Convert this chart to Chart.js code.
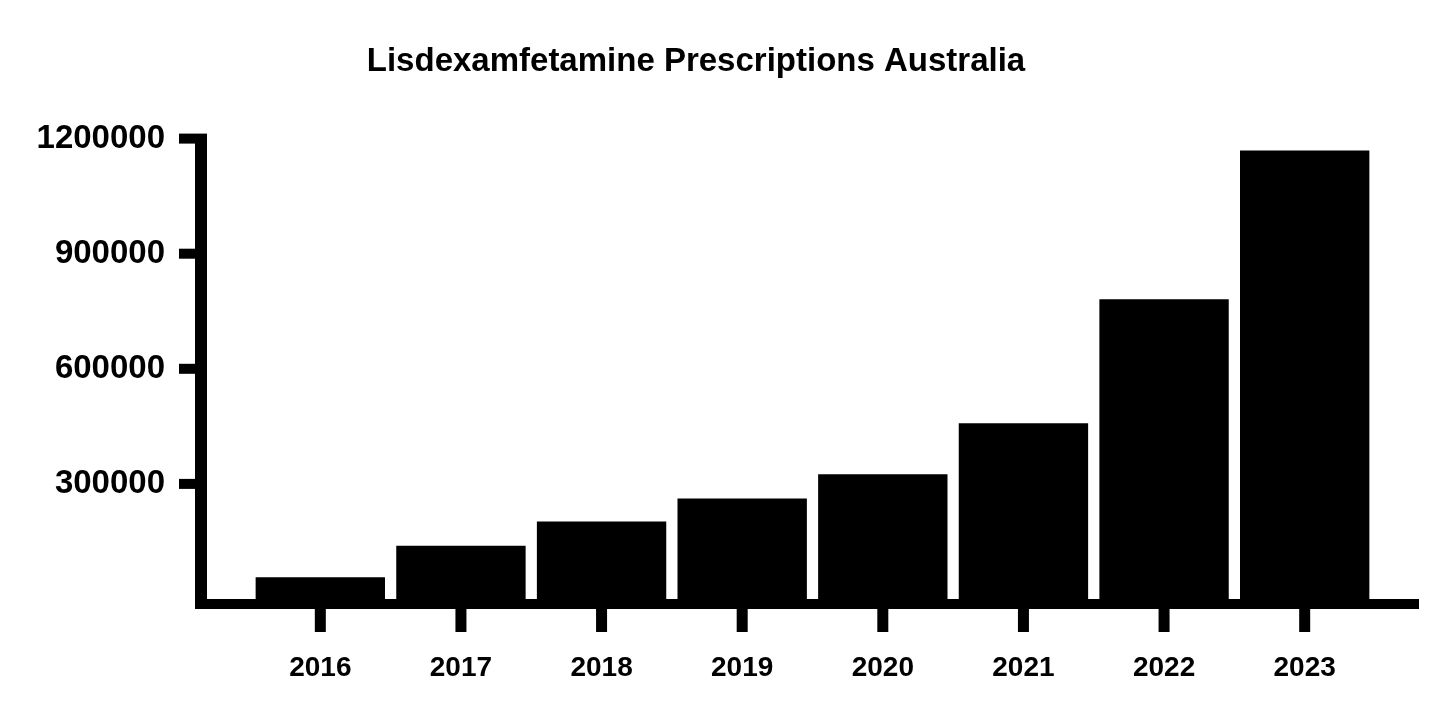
<!DOCTYPE html>
<html>
<head>
<meta charset="utf-8">
<title>Lisdexamfetamine Prescriptions Australia</title>
<script src="https://cdn.jsdelivr.net/npm/chart.js@4.4.1/dist/chart.umd.min.js"></script>
<style>
html,body{margin:0;padding:0;background:#fff;overflow:hidden}
.wrap{width:1456px;height:704px;position:relative}
</style>
</head>
<body>
<div class="wrap"><canvas id="chart"></canvas></div>
<script>
// values
const years = ['2016', '2017', '2018', '2019', '2020', '2021', '2022', '2023'];
const prescriptions = [57000, 139000, 202000, 262000, 325000, 458000, 781000, 1169000];
const yTicks = [300000, 600000, 900000, 1200000];
const yMax = 1200000;

const FONT = "'Liberation Sans', Arial, Helvetica, sans-serif";

// thick black axes with stub ticks, drawn from the chart's own scales
const axisFrame = {
  id: 'axisFrame',
  afterDatasetsDraw(chart) {
    const { ctx, chartArea: a, scales: { x, y } } = chart;
    const zero = y.getPixelForValue(0);
    const top = y.getPixelForValue(yMax);
    const axisX = a.left - 49;
    ctx.save();
    ctx.fillStyle = '#000';
    ctx.fillRect(axisX - 6, top - 5, 12, zero + 10 - (top - 5));
    ctx.fillRect(axisX - 6, zero, a.right + 44 - (axisX - 6), 10);
    yTicks.forEach(v => {
      const p = y.getPixelForValue(v);
      ctx.fillRect(axisX - 22, p - 5, 16, 10);
    });
    years.forEach((_, i) => {
      const p = x.getPixelForValue(i);
      ctx.fillRect(p - 5.5, zero + 10, 11, 23);
    });
    ctx.restore();
  }
};

new Chart(document.getElementById('chart'), {
  type: 'bar',
  data: {
    labels: years,
    datasets: [{
      data: prescriptions,
      backgroundColor: '#000',
      borderWidth: 0,
      categoryPercentage: 1,
      barPercentage: 0.92
    }]
  },
  options: {
    responsive: true,
    maintainAspectRatio: false,
    animation: false,
    layout: { padding: { left: 17, right: 81, top: 0, bottom: 0 } },
    plugins: {
      legend: { display: false },
      tooltip: { enabled: false },
      title: {
        display: true,
        text: 'Lisdexamfetamine Prescriptions Australia',
        color: '#000',
        font: { family: FONT, size: 33, weight: 'bold' },
        padding: { top: 42, bottom: 57 }
      }
    },
    scales: {
      x: {
        grid: { display: false, drawTicks: false },
        border: { display: false },
        ticks: { color: '#000', font: { family: FONT, size: 28, weight: 'bold' }, padding: 52, maxRotation: 0 },
        afterFit(s) { s.height = 105; }
      },
      y: {
        min: 0,
        max: yMax,
        grid: { display: false, drawTicks: false },
        border: { display: false },
        ticks: {
          color: '#000',
          font: { family: FONT, size: 33, weight: 'bold' },
          padding: 85,
          callback: v => (v === 0 ? '' : String(v))
        },
        afterBuildTicks(s) { s.ticks = [0, ...yTicks].map(v => ({ value: v })); },
        afterFit(s) { s.width = 233; }
      }
    }
  },
  plugins: [axisFrame]
});
</script>
</body>
</html>
